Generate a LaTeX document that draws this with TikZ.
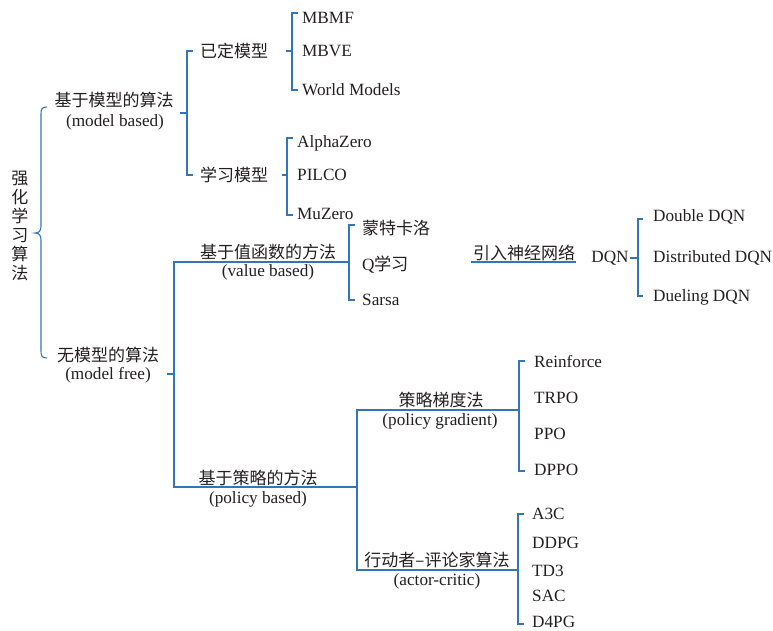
\documentclass[tikz,border=0pt]{standalone}
\usepackage{fontspec}
\setmainfont{Liberation Serif}
\newfontfamily\cjk{Noto Sans CJK SC}
\definecolor{brblue}{RGB}{50,118,186}
\definecolor{ink}{RGB}{35,31,32}
\begin{document}
\begin{tikzpicture}[x=1pt,y=-1pt,
  every node/.style={inner sep=0pt,text=ink,font=\fontsize{17.2}{19}\selectfont},
  cn/.style={font=\fontsize{17}{19}\selectfont\cjk},
  leaf/.style={anchor=west},
  br/.style={draw=brblue,line width=1.1pt}]
\useasboundingbox (0,0) rectangle (773,631);
% root
\node[cn,align=center] (root) at (20,226) {强\\化\\学\\习\\算\\法};
% level 1
\node[cn] (mb) at (114,100) {基于模型的算法};
\node (mbe) at (115,122) {(model based)};
\node[cn] (mf) at (108,355) {无模型的算法};
\node (mfe) at (108,375) {(model free)};
% model based children
\node[cn] (yd) at (234,51) {已定模型};
\node[cn] (xx) at (234,175) {学习模型};
\node[leaf] (mbmf) at (302,18) {MBMF};
\node[leaf] (mbve) at (302,51) {MBVE};
\node[leaf] (wm) at (302,90) {World Models};
\node[leaf] (az) at (297,143) {AlphaZero};
\node[leaf] (pilco) at (297,175) {PILCO};
\node[leaf] (mz) at (297,214) {MuZero};
% value based
\node[cn] (vb) at (268,252) {基于值函数的方法};
\node (vbe) at (268,272) {(value based)};
\node[leaf,cn] (mc) at (362,228) {蒙特卡洛};
\node[leaf] (ql) at (362,265) {Q{\cjk 学习}};
\node[leaf] (sarsa) at (362,300) {Sarsa};
\node[cn] (nn) at (524,253) {引入神经网络};
\node (dqn) at (610,258) {DQN};
\node[leaf] (ddqn) at (653,217) {Double DQN};
\node[leaf] (dsdqn) at (653,258) {Distributed DQN};
\node[leaf] (dudqn) at (653,297) {Dueling DQN};
% policy based
\node[cn] (pb) at (258,478) {基于策略的方法};
\node (pbe) at (258,499) {(policy based)};
\node[cn] (pg) at (441,400) {策略梯度法};
\node (pge) at (440,421) {(policy gradient)};
\node[cn] (ac) at (437,560) {行动者–评论家算法};
\node (ace) at (437,581) {(actor-critic)};
\node[leaf] (rf) at (534,362) {Reinforce};
\node[leaf] (trpo) at (534,398) {TRPO};
\node[leaf] (ppo) at (534,434) {PPO};
\node[leaf] (dppo) at (534,470) {DPPO};
\node[leaf] (a3c) at (532,514) {A3C};
\node[leaf] (ddpg) at (532,543) {DDPG};
\node[leaf] (td3) at (532,571) {TD3};
\node[leaf] (sac) at (532,596) {SAC};
\node[leaf] (d4pg) at (532,622) {D4PG};
% brace
\draw[br] (47,107) .. controls (42,107) and (41,109) .. (41,114) -- (41,226)
  .. controls (41,231) and (39,233) .. (35,233)
  .. controls (39,233) and (41,235) .. (41,240) -- (41,351)
  .. controls (41,356) and (42,358) .. (47,358);
% model based bracket
\draw[br] (180,113) -- (187,113);
\draw[br] (193,51) -- (187,51) -- (187,175) -- (193,175);
\draw[br] (286,51) -- (292,51);
\draw[br] (298,13) -- (292,13) -- (292,90) -- (298,90);
\draw[br] (282,175) -- (287,175);
\draw[br] (293,138) -- (287,138) -- (287,215) -- (293,215);
% model free
\draw[br] (167,374) -- (174,374);
\draw[br] (349,262) -- (174,262) -- (174,487) -- (357,487);
\draw[br] (355,225) -- (349,225) -- (349,300) -- (355,300);
\draw[br] (471,262) -- (576,262);
\draw[br] (630,258) -- (638,258);
\draw[br] (643,219) -- (638,219) -- (638,296) -- (643,296);
% policy
\draw[br] (519,410) -- (357,410) -- (357,570) -- (518,570);
\draw[br] (525,361) -- (519,361) -- (519,471) -- (525,471);
\draw[br] (524,514) -- (518,514) -- (518,624) -- (524,624);
\end{tikzpicture}
\end{document}
